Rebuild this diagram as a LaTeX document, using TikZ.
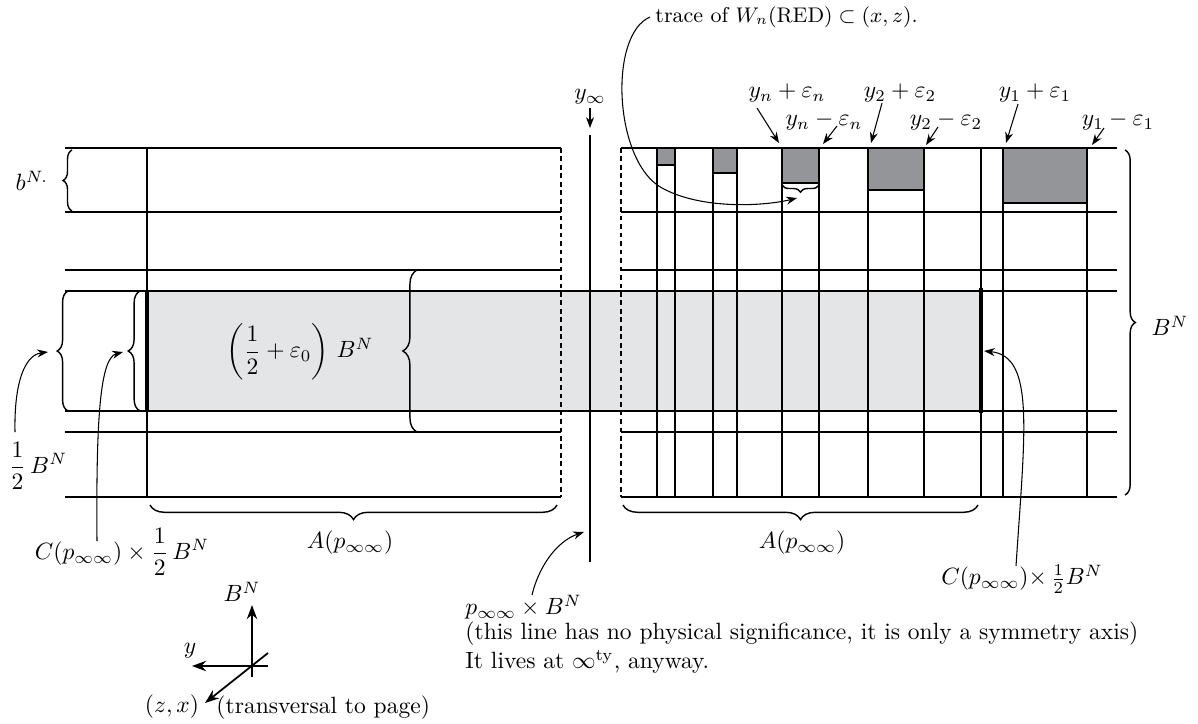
\documentclass[tikz,border=0pt]{standalone}
\usepackage{amsmath}
\usetikzlibrary{decorations.pathreplacing,arrows.meta}
\definecolor{lightfill}{RGB}{228,229,231}
\definecolor{darkfill}{RGB}{147,149,152}
\begin{document}
\begin{tikzpicture}[x=0.425pt,y=-0.425pt,
  ln/.style={line width=0.75pt},
  thk/.style={line width=1.8pt},
  dsh/.style={line width=0.75pt,dash pattern=on 2pt off 1.6pt},
  brc/.style={decorate,decoration={brace,amplitude=#1},line width=0.6pt},
  brc/.default=4pt,
  arr/.style={line width=0.45pt,-{Stealth[length=4.6pt,width=3.4pt]}},
  axarr/.style={line width=0.75pt,-{Stealth[length=6pt,width=4.4pt]}},
  lab/.style={inner sep=0pt}]
\useasboundingbox (0,0) rectangle (1198,723);
% fills
\fill[lightfill] (147,291) rectangle (981,411);
\filldraw[fill=darkfill,draw=black,ln] (657,148) rectangle (675,165);
\filldraw[fill=darkfill,draw=black,ln] (713,148) rectangle (737,173);
\filldraw[fill=darkfill,draw=black,ln] (782,148) rectangle (819,183);
\filldraw[fill=darkfill,draw=black,ln] (868,148) rectangle (924,190);
\filldraw[fill=darkfill,draw=black,ln] (1003,148) rectangle (1087,203);
% horizontal lines
\foreach \yy in {148,212,270,432,497}{
  \draw[ln] (65,\yy) -- (561,\yy);
  \draw[ln] (621,\yy) -- (1117,\yy);}
\draw[ln] (65,291) -- (1117,291);
\draw[ln] (65,411) -- (1117,411);
% dashed borders
\draw[dsh] (561,148) -- (561,497);
\draw[dsh] (621,148) -- (621,497);
% vertical lines
\draw[ln] (147,148) -- (147,497);
\foreach \xx in {657,675,713,737,782,819,868,924,981,1003,1087}{
  \draw[ln] (\xx,148) -- (\xx,497);}
\draw[thk] (147,291) -- (147,411);
\draw[thk] (981,288) -- (981,413);
% symmetry axis
\draw[ln] (590,135) -- (590,562);
% braces
\draw[brc=3.8pt] (72,211) -- (72,150);
\draw[brc=4.6pt] (68,411) -- (68,291);
\draw[brc=5pt] (140,411) -- (140,291);
\draw[brc=6pt] (417,432) -- (417,270);
\draw[brc=6.2pt] (557,505) -- (150,505);
\draw[brc=6.2pt] (978,505) -- (623,505);
\draw[brc=4.4pt] (1125,150) -- (1125,495);
\draw[brc=3pt] (819,185) -- (782,185);
% labels
\node[lab] (bN) at (32,181) {$b^{N.}$};
\node[lab] (half) at (38,466) {$\dfrac{1}{2}\,B^N$};
\node[lab] (Chalf) at (122,552) {$C(p_{\infty\infty})\times\dfrac{1}{2}\,B^N$};
\node[lab] (Aleft) at (350,543) {$A(p_{\infty\infty})$};
\node[lab] (Aright) at (802,543) {$A(p_{\infty\infty})$};
\node[lab] (mid) at (300,352) {$\left(\dfrac{1}{2}+\varepsilon_0\right)\,B^N$};
\node[lab] (BNr) at (1170,326) {$B^N$};
\node[lab] (Cright) at (1022,579) {$C(p_{\infty\infty}){\times}\,\tfrac{1}{2}B^N$};
\node[lab,anchor=west] (pinf) at (465,607) {$p_{\infty\infty}\times B^N$};
\node[lab,anchor=west] (note1) at (465,634) {(this line has no physical significance, it is only a symmetry axis)};
\node[lab,anchor=west] (note2) at (465,662) {It lives at $\infty^{\mathrm{ty}}$, anyway.};
\node[lab] (yinf) at (590,97) {$y_\infty$};
\node[lab,anchor=west,font=\fontsize{9.1}{11}\selectfont] (trace) at (655,17) {trace of $W_n(\mathrm{RED})\subset(x,z)$.};
\node[lab] (ynp) at (787,93) {$y_n+\varepsilon_n$};
\node[lab] (ynm) at (824,121) {$y_n-\varepsilon_n$};
\node[lab] (y2p) at (900,93) {$y_2+\varepsilon_2$};
\node[lab] (y2m) at (946,121) {$y_2-\varepsilon_2$};
\node[lab] (y1p) at (1035,93) {$y_1+\varepsilon_1$};
\node[lab] (y1m) at (1118,121) {$y_1-\varepsilon_1$};
% arrow coordinates
\coordinate (ta) at (650,17);
\coordinate (tb) at (797,198);
\draw[arr] (ta) .. controls (608,35) and (614,162) .. (662,188) .. controls (702,210) and (765,206) .. (tb);
\coordinate (yia) at (590,108);
\coordinate (yib) at (590,128);
\draw[arr] (yia) -- (yib);
\draw[arr] (757,108) -- (779,143);
\draw[arr] (837,126) -- (823,144);
\draw[arr] (882,103) -- (871,143);
\draw[arr] (938,127) -- (926,145);
\draw[arr] (1018,104) -- (1006,143);
\draw[arr] (1104,128) -- (1092,145);
\coordinate (ha) at (15,432);
\coordinate (hb) at (48,352);
\draw[arr] (ha) .. controls (14,382) and (25,355) .. (hb);
\coordinate (ca) at (97,541);
\coordinate (cb) at (123,352);
\draw[arr] (ca) .. controls (96,420) and (100,358) .. (cb);
\coordinate (pa) at (532,595);
\coordinate (pb) at (584,532);
\draw[arr] (pa) .. controls (540,562) and (560,540) .. (pb);
\coordinate (ra) at (1016,566);
\coordinate (rb) at (984,351);
\draw[arr] (ra) .. controls (1025,430) and (1035,356) .. (rb);
% axes
\coordinate (o) at (252,666);
\draw[axarr] (252,677) -- (252,605);
\draw[axarr] (268,666) -- (192,666);
\draw[axarr] (268,653) -- (205,703);
\node[lab] (axB) at (242,592) {$B^N$};
\node[lab] (axy) at (190,651) {$y$};
\node[lab] (axz) at (172,707) {$(z,x)$};
\node[lab,anchor=west] (axt) at (216,708) {(transversal to page)};
\end{tikzpicture}
\end{document}
